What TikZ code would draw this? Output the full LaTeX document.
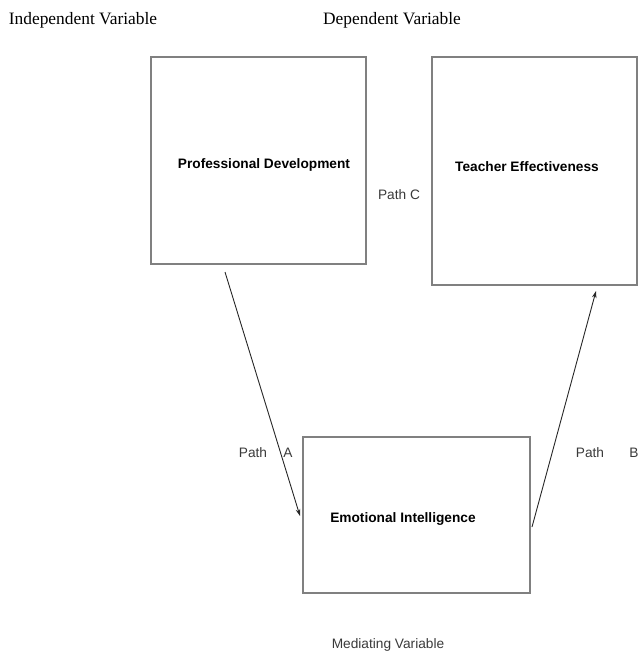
\documentclass[tikz,border=0pt]{standalone}
\usepackage{fontspec}
\setmainfont{Liberation Serif}
\setsansfont{Liberation Sans}
\usetikzlibrary{arrows.meta}
\definecolor{boxgray}{HTML}{808080}
\definecolor{txtgray}{HTML}{3A3A3A}
\tikzset{
  varbox/.style={draw=boxgray, line width=1.3pt, fill=none, inner sep=0pt},
  boxtext/.style={font=\sffamily\bfseries\fontsize{13.7}{16}\selectfont, text=black, inner sep=0pt},
  pathlbl/.style={font=\sffamily\fontsize{13.7}{16}\selectfont, text=txtgray, inner sep=0pt},
  headlbl/.style={font=\rmfamily\fontsize{17.4}{20}\selectfont, text=black, inner sep=0pt},
  arr/.style={draw=black!85, line width=0.9pt, -{Stealth[length=7pt,width=4.5pt]}}
}
\begin{document}
\begin{tikzpicture}[x=1pt, y=-1pt]
\useasboundingbox (0,0) rectangle (640,655);
% headings
\node[headlbl] (iv) at (83,20) {Independent Variable};
\node[headlbl] (dv) at (392,20) {Dependent Variable};
% boxes
\node[varbox, minimum width=215pt, minimum height=207pt] (pd) at (258.5,160.5) {};
\node[varbox, minimum width=205pt, minimum height=228pt] (te) at (534.5,171) {};
\node[varbox, minimum width=227pt, minimum height=156pt] (ei) at (416.5,515) {};
% box texts
\node[boxtext] (pdt) at (264,165) {Professional Development};
\node[boxtext] (tet) at (527,167) {Teacher Effectiveness};
\node[boxtext] (eit) at (403,519) {Emotional Intelligence};
% path labels
\node[pathlbl] (pc) at (399,195) {Path C};
\node[pathlbl] (pa1) at (253,453) {Path};
\node[pathlbl] (pa2) at (288,453) {A};
\node[pathlbl] (pb1) at (590,453) {Path};
\node[pathlbl] (pb2) at (634,453) {B};
\node[pathlbl] (mv) at (388,645) {Mediating Variable};
% connectors
\coordinate (a0) at (225,272);
\coordinate (a1) at (300,516);
\coordinate (b0) at (532,527);
\coordinate (b1) at (596,291);
\draw[arr] (a0) -- (a1);
\draw[arr] (b0) -- (b1);
\end{tikzpicture}
\end{document}
